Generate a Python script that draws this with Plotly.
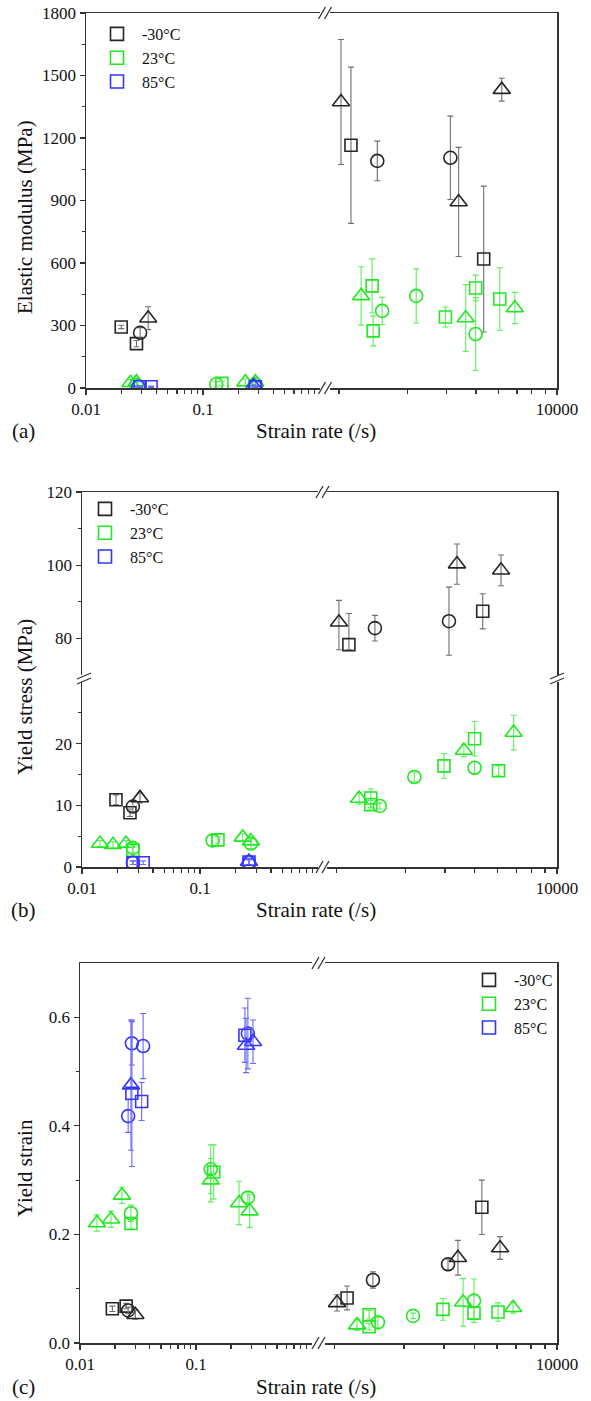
import plotly.graph_objects as go

W, H = 591, 1401


def px(x):
    return x / W


def py(y):
    return 1 - y / H


FONT = "Liberation Serif"
TEMPS = ["-30°C", "23°C", "85°C"]

# ---------------- (a) Elastic modulus (MPa) ----------------
E_M30_RATE = [0.020, 0.027, 0.029, 0.034, 125, 153, 261, 1150, 1360, 2260, 3260]
E_M30_SPEC = ["A", "A", "B", "C", "C", "A", "B", "B", "C", "A", "C"]
E_M30_VAL = [293, 213, 265, 335, 1373, 1165, 1090, 1105, 893, 619, 1432]
E_M30_ERR = [8, 15, 25, 55, 300, 375, 95, 200, 262, 350, 55]

E_23_RATE = [0.024, 0.027, 0.027, 0.13, 0.145, 0.23, 0.28, 0.28,
             188, 235, 240, 288, 575, 1040, 1570, 1920, 1920, 3130, 4250]
E_23_SPEC = ["C", "C", "B", "B", "A", "C", "C", "B",
             "C", "A", "A", "B", "B", "A", "C", "A", "B", "A", "C"]
E_23_VAL = [25, 28, 15, 18, 22, 28, 28, 18,
            442, 490, 274, 370, 442, 341, 336, 480, 259, 427, 384]
E_23_ERR = [15, 15, 10, 12, 10, 15, 15, 10,
            140, 130, 72, 65, 130, 48, 160, 62, 175, 150, 75]

E_85_RATE = [0.028, 0.029, 0.036, 0.27, 0.28, 0.28]
E_85_SPEC = ["B", "A", "A", "C", "B", "A"]
E_85_VAL = [6, 6, 6, 10, 6, 6]
E_85_ERR = [3, 3, 3, 5, 3, 3]

# ---------------- (b) Yield stress (MPa) ----------------
S_M30_RATE = [0.0194, 0.0255, 0.027, 0.031, 127, 155, 261, 1150, 1350, 2260, 3260]
S_M30_SPEC = ["A", "A", "B", "C", "C", "A", "B", "B", "C", "A", "C"]
S_M30_VAL = [10.9, 8.8, 9.8, 11.2, 84.4, 78.3, 82.8, 84.7, 100.3, 87.4, 98.6]
S_M30_ERR = [0.8, 0.6, 0.8, 0.8, 6.0, 8.5, 3.5, 9.3, 5.5, 4.8, 4.2]
S_M30_ERRM = [0.8, 0.6, 0.8, 0.8, 7.5, 1.5, 3.5, 9.3, 5.5, 4.8, 4.2]

S_23_RATE = [0.0142, 0.0183, 0.0236, 0.027, 0.027, 0.128, 0.142, 0.23, 0.27, 0.27,
             190, 240, 240, 288, 575, 1040, 1550, 1920, 1920, 3100, 4200]
S_23_SPEC = ["C", "C", "C", "B", "A", "B", "A", "C", "B", "C",
             "C", "A", "A", "B", "B", "A", "C", "A", "B", "A", "C"]
S_23_VAL = [3.8, 3.6, 3.8, 3.1, 2.7, 4.3, 4.4, 4.8, 3.8, 4.2,
            11.1, 11.2, 10.1, 9.9, 14.6, 16.4, 18.9, 20.8, 16.1, 15.6, 21.8]
S_23_ERR = [0.5, 0.5, 0.5, 0.8, 0.5, 0.8, 0.5, 0.6, 0.8, 0.5,
            0.9, 1.5, 0.7, 0.5, 0.8, 2.0, 1.0, 2.8, 1.0, 0.8, 2.8]

S_85_RATE = [0.027, 0.027, 0.033, 0.26, 0.26, 0.26]
S_85_SPEC = ["B", "A", "A", "C", "B", "A"]
S_85_VAL = [0.7, 0.7, 0.7, 0.9, 0.8, 0.8]
S_85_ERR = [0.3, 0.3, 0.3, 0.5, 0.4, 0.4]

# ---------------- (c) Yield strain ----------------
Y_M30_RATE = [0.019, 0.025, 0.026, 0.030, 127, 155, 259, 1150, 1400, 2250, 3230]
Y_M30_SPEC = ["A", "A", "B", "C", "C", "A", "B", "B", "C", "A", "C"]
Y_M30_VAL = [0.063, 0.068, 0.060, 0.052, 0.074, 0.083, 0.116, 0.145, 0.157, 0.250, 0.175]
Y_M30_ERR = [0.005, 0.005, 0.006, 0.008, 0.015, 0.022, 0.015, 0.010, 0.032, 0.050, 0.021]

Y_23_RATE = [0.014, 0.0185, 0.023, 0.0275, 0.0275, 0.134, 0.142, 0.134, 0.235, 0.28, 0.29,
             189, 240, 240, 286, 574, 1040, 1550, 1925, 1925, 3100, 4180]
Y_23_SPEC = ["C", "C", "C", "B", "A", "B", "A", "C", "C", "B", "C",
             "C", "A", "A", "B", "B", "A", "C", "B", "A", "A", "C"]
Y_23_VAL = [0.221, 0.228, 0.272, 0.239, 0.220, 0.320, 0.315, 0.300, 0.258, 0.268, 0.243,
            0.033, 0.052, 0.030, 0.038, 0.050, 0.062, 0.075, 0.078, 0.055, 0.057, 0.065]
Y_23_ERR = [0.015, 0.015, 0.015, 0.015, 0.010, 0.045, 0.05, 0.04, 0.04, 0.01, 0.03,
            0.01, 0.008, 0.006, 0.01, 0.005, 0.02, 0.044, 0.04, 0.01, 0.017, 0.01]

Y_85_RATE = [0.028, 0.035, 0.0275, 0.028, 0.034, 0.026, 0.264, 0.28, 0.27, 0.31]
Y_85_SPEC = ["B", "B", "C", "A", "A", "B", "A", "B", "C", "C"]
Y_85_VAL = [0.552, 0.547, 0.475, 0.460, 0.445, 0.418, 0.567, 0.570, 0.548, 0.555]
Y_85_ERR = [0.04, 0.06, 0.12, 0.135, 0.035, 0.03, 0.05, 0.065, 0.05, 0.04]

# tick definitions
XL_MAJOR = [0.01, 0.1]
XL_MAJOR_TEXT = ["0.01", "0.1"]
XL_MINOR = [0.02, 0.03, 0.04, 0.05, 0.06, 0.07, 0.08, 0.09,
            0.2, 0.3, 0.4, 0.5, 0.6, 0.7, 0.8, 0.9]
XR_MAJOR = [10000]
XR_MAJOR_TEXT = ["10000"]
XR_MINOR = [120, 480, 1060, 1930, 3040, 4440, 5970, 7880]

# ---------------- styles ----------------
COLORS = {"-30°C": "#262626", "23°C": "#22e822", "85°C": "#3535ff"}
ERRCOL = {"-30°C": "#707070", "23°C": "#5cf05c", "85°C": "#6a6aff"}
SYMBOL = {"A": "square-open", "B": "circle-open", "C": "triangle-up-open"}
MSIZE = {"A": 12, "B": 13, "C": 15}
AXC = "#333333"

fig = go.Figure()

# panel geometry (pixels)
PANELS = {
    "a": dict(xl=(86, 320), xr=(330, 557), segs=[dict(y=(388, 13), rng=(0, 1800))]),
    "b": dict(xl=(82, 318), xr=(327, 557),
              segs=[dict(y=(867, 682), rng=(0, 30)), dict(y=(675, 492), rng=(70, 120))]),
    "c": dict(xl=(80, 312), xr=(325, 557), segs=[dict(y=(1343, 963), rng=(0, 0.7))]),
}

layout = dict(
    width=W, height=H,
    margin=dict(l=0, r=0, t=0, b=0, pad=0, autoexpand=False),
    paper_bgcolor="white", plot_bgcolor="rgba(0,0,0,0)",
    font=dict(family=FONT, size=17, color="#111"),
    showlegend=True,
)


def xaxis_dict(dom, rng, anchor, major, major_text, minor, side="bottom",
               show=True, mirror=False):
    d = dict(type="log", domain=[px(dom[0]), px(dom[1])], range=list(rng),
             anchor=anchor, side=side, showline=True, linecolor=AXC, linewidth=1.5,
             showgrid=False, zeroline=False, mirror=mirror, automargin=False)
    if show:
        d.update(tickmode="array", tickvals=major, ticktext=major_text,
                 ticks="outside", ticklen=5, tickwidth=1.2, tickcolor=AXC,
                 tickfont=dict(size=17, family=FONT, color="#111"),
                 minor=dict(tickvals=minor, ticks="outside", ticklen=4,
                            tickwidth=1.2, tickcolor=AXC))
    else:
        d.update(ticks="", showticklabels=False)
    return d


def yaxis_dict(dom, rng, anchor, major=None, major_text=None, minor=None,
               side="left", show=True):
    d = dict(domain=[py(dom[0]), py(dom[1])], range=list(rng), anchor=anchor,
             side=side, showline=True, linecolor=AXC, linewidth=1.5,
             showgrid=False, zeroline=False, automargin=False, type="linear")
    if show:
        d.update(tickmode="array", tickvals=major, ticktext=major_text,
                 ticks="outside", ticklen=5, tickwidth=1.2, tickcolor=AXC,
                 tickfont=dict(size=17, family=FONT, color="#111"),
                 minor=dict(tickvals=minor, ticks="outside", ticklen=3,
                            tickwidth=1.2, tickcolor=AXC))
    else:
        d.update(ticks="", showticklabels=False)
    return d


LOG_L = (-2, 0)
LOG_R = (2, 4)

# ---- panel a axes: x, x2, y, y2
pa = PANELS["a"]
layout["xaxis"] = xaxis_dict(pa["xl"], LOG_L, "y", XL_MAJOR, XL_MAJOR_TEXT, XL_MINOR, mirror=True)
layout["xaxis2"] = xaxis_dict(pa["xr"], LOG_R, "y2", XR_MAJOR, XR_MAJOR_TEXT, XR_MINOR, mirror=True)
layout["yaxis"] = yaxis_dict(pa["segs"][0]["y"], pa["segs"][0]["rng"], "x",
                             [0, 300, 600, 900, 1200, 1500, 1800],
                             ["0", "300", "600", "900", "1200", "1500", "1800"],
                             [150, 450, 750, 1050, 1350, 1650])
layout["yaxis2"] = yaxis_dict(pa["segs"][0]["y"], pa["segs"][0]["rng"], "x2",
                              side="right", show=False)

# ---- panel b axes
pb = PANELS["b"]
layout["xaxis3"] = xaxis_dict(pb["xl"], LOG_L, "y3", XL_MAJOR, XL_MAJOR_TEXT, XL_MINOR)
layout["xaxis4"] = xaxis_dict(pb["xr"], LOG_R, "y4", XR_MAJOR, XR_MAJOR_TEXT, XR_MINOR)
layout["xaxis5"] = xaxis_dict(pb["xl"], LOG_L, "y5", None, None, None, side="top", show=False)
layout["xaxis6"] = xaxis_dict(pb["xr"], LOG_R, "y6", None, None, None, side="top", show=False)
layout["yaxis3"] = yaxis_dict(pb["segs"][0]["y"], pb["segs"][0]["rng"], "x3",
                              [0, 10, 20], ["0", "10", "20"], [5, 15, 25])
layout["yaxis4"] = yaxis_dict(pb["segs"][0]["y"], pb["segs"][0]["rng"], "x4",
                              side="right", show=False)
layout["yaxis5"] = yaxis_dict(pb["segs"][1]["y"], pb["segs"][1]["rng"], "x5",
                              [80, 100, 120], ["80", "100", "120"], [90, 110])
layout["yaxis6"] = yaxis_dict(pb["segs"][1]["y"], pb["segs"][1]["rng"], "x6",
                              side="right", show=False)

# ---- panel c axes
pc = PANELS["c"]
layout["xaxis7"] = xaxis_dict(pc["xl"], LOG_L, "y7", XL_MAJOR, XL_MAJOR_TEXT, XL_MINOR, mirror=True)
layout["xaxis8"] = xaxis_dict(pc["xr"], LOG_R, "y8", XR_MAJOR, XR_MAJOR_TEXT, XR_MINOR, mirror=True)
layout["yaxis7"] = yaxis_dict(pc["segs"][0]["y"], pc["segs"][0]["rng"], "x7",
                              [0, 0.2, 0.4, 0.6], ["0.0", "0.2", "0.4", "0.6"],
                              [0.1, 0.3, 0.5])
layout["yaxis8"] = yaxis_dict(pc["segs"][0]["y"], pc["segs"][0]["rng"], "x8",
                              side="right", show=False)

# ---------------- traces ----------------
DATASETS = {
    "a": [("-30°C", E_M30_RATE, E_M30_SPEC, E_M30_VAL, E_M30_ERR, E_M30_ERR),
          ("23°C", E_23_RATE, E_23_SPEC, E_23_VAL, E_23_ERR, E_23_ERR),
          ("85°C", E_85_RATE, E_85_SPEC, E_85_VAL, E_85_ERR, E_85_ERR)],
    "b": [("-30°C", S_M30_RATE, S_M30_SPEC, S_M30_VAL, S_M30_ERR, S_M30_ERRM),
          ("23°C", S_23_RATE, S_23_SPEC, S_23_VAL, S_23_ERR, S_23_ERR),
          ("85°C", S_85_RATE, S_85_SPEC, S_85_VAL, S_85_ERR, S_85_ERR)],
    "c": [("-30°C", Y_M30_RATE, Y_M30_SPEC, Y_M30_VAL, Y_M30_ERR, Y_M30_ERR),
          ("23°C", Y_23_RATE, Y_23_SPEC, Y_23_VAL, Y_23_ERR, Y_23_ERR),
          ("85°C", Y_85_RATE, Y_85_SPEC, Y_85_VAL, Y_85_ERR, Y_85_ERR)],
}


def axes_for(panel, rate, val):
    right = rate > 10
    if panel == "a":
        return ("x2", "y2") if right else ("x", "y")
    if panel == "c":
        return ("x8", "y8") if right else ("x7", "y7")
    upper = val > 50
    if upper:
        return ("x6", "y6") if right else ("x5", "y5")
    return ("x4", "y4") if right else ("x3", "y3")


# empty placeholder traces so every sub-plot (incl. the empty upper-left one) is built
for xa, ya in [("x", "y"), ("x2", "y2"), ("x3", "y3"), ("x4", "y4"), ("x5", "y5"),
               ("x6", "y6"), ("x7", "y7"), ("x8", "y8")]:
    fig.add_trace(go.Scatter(x=[None], y=[None], xaxis=xa, yaxis=ya, mode="markers",
                             showlegend=False, hoverinfo="skip"))

for panel, sets in DATASETS.items():
    for temp, rates, specs, vals, errp, errm in sets:
        groups = {}
        for r, s, v, ep, em in zip(rates, specs, vals, errp, errm):
            key = (s,) + axes_for(panel, r, v)
            groups.setdefault(key, []).append((r, v, ep, em))
        for (s, xa, ya), pts in groups.items():
            fig.add_trace(go.Scatter(
                x=[p[0] for p in pts], y=[p[1] for p in pts],
                xaxis=xa, yaxis=ya, mode="markers", showlegend=False,
                marker=dict(symbol=SYMBOL[s], size=MSIZE[s], color=COLORS[temp],
                            line=dict(width=1.6, color=COLORS[temp])),
                error_y=dict(type="data", symmetric=False,
                             array=[p[2] for p in pts], arrayminus=[p[3] for p in pts],
                             color=ERRCOL[temp], thickness=1.1, width=3),
                hoverinfo="skip",
            ))

# legends
LEG_AXES = {"a": ("x", "y", "legend"), "b": ("x3", "y3", "legend2"), "c": ("x7", "y7", "legend3")}
for panel, (xa, ya, lg) in LEG_AXES.items():
    for temp in TEMPS:
        fig.add_trace(go.Scatter(
            x=[None], y=[None], xaxis=xa, yaxis=ya, mode="markers", name=temp,
            legend=lg, showlegend=True,
            marker=dict(symbol="square-open", size=13, color=COLORS[temp],
                        line=dict(width=1.6, color=COLORS[temp])),
        ))

LEG_STYLE = dict(bgcolor="rgba(0,0,0,0)", borderwidth=0, xanchor="left", yanchor="top",
                 font=dict(family=FONT, size=16, color="#111"), tracegroupgap=0,
                 itemsizing="trace", itemwidth=40)
layout["legend"] = dict(x=px(92), y=py(17), **LEG_STYLE)
layout["legend2"] = dict(x=px(80), y=py(492), **LEG_STYLE)
layout["legend3"] = dict(x=px(464), y=py(963), **LEG_STYLE)

# titles and labels
ann = []
TITLE_FONT = dict(family=FONT, size=21, color="#111")
for (xc, yc, txt) in [(25, 217, "Elastic modulus (MPa)"), (25, 697, "Yield stress (MPa)"),
                      (25, 1168, "Yield strain")]:
    ann.append(dict(x=px(xc), y=py(yc), xref="paper", yref="paper", text=txt,
                    textangle=-90, showarrow=False, font=TITLE_FONT,
                    xanchor="center", yanchor="middle"))
for (yc, lab) in [(431, "(a)"), (910, "(b)"), (1387, "(c)")]:
    ann.append(dict(x=px(316), y=py(yc), xref="paper", yref="paper", text="Strain rate (/s)",
                    showarrow=False, font=TITLE_FONT, xanchor="center", yanchor="middle"))
    ann.append(dict(x=px(23), y=py(yc), xref="paper", yref="paper", text=lab,
                    showarrow=False, font=TITLE_FONT, xanchor="center", yanchor="middle"))
layout["annotations"] = ann

# axis break marks
shapes = []


def xbreak(xc, yc):
    for dx in (-3, 3):
        shapes.append(dict(type="line", xref="paper", yref="paper",
                           x0=px(xc + dx - 3.5), y0=py(yc + 6),
                           x1=px(xc + dx + 3.5), y1=py(yc - 6),
                           line=dict(color=AXC, width=1.3)))


def ybreak(xc, yc):
    for dy in (-2.5, 2.5):
        shapes.append(dict(type="line", xref="paper", yref="paper",
                           x0=px(xc - 7), y0=py(yc + dy + 3),
                           x1=px(xc + 7), y1=py(yc + dy - 3),
                           line=dict(color=AXC, width=1.3)))


for p in PANELS.values():
    xc = (p["xl"][1] + p["xr"][0]) / 2
    top = p["segs"][-1]["y"][1]
    bot = p["segs"][0]["y"][0]
    xbreak(xc, top)
    xbreak(xc, bot)
yb = (PANELS["b"]["segs"][0]["y"][1] + PANELS["b"]["segs"][1]["y"][0]) / 2
ybreak(PANELS["b"]["xl"][0] + 2, yb)
ybreak(PANELS["b"]["xr"][1], yb)
layout["shapes"] = shapes

fig.update_layout(**layout)
fig.write_html(
    "out.html",
    config={"displayModeBar": False, "staticPlot": True},
    post_script="document.body.style.margin='0px';document.body.style.padding='0px';",
)
